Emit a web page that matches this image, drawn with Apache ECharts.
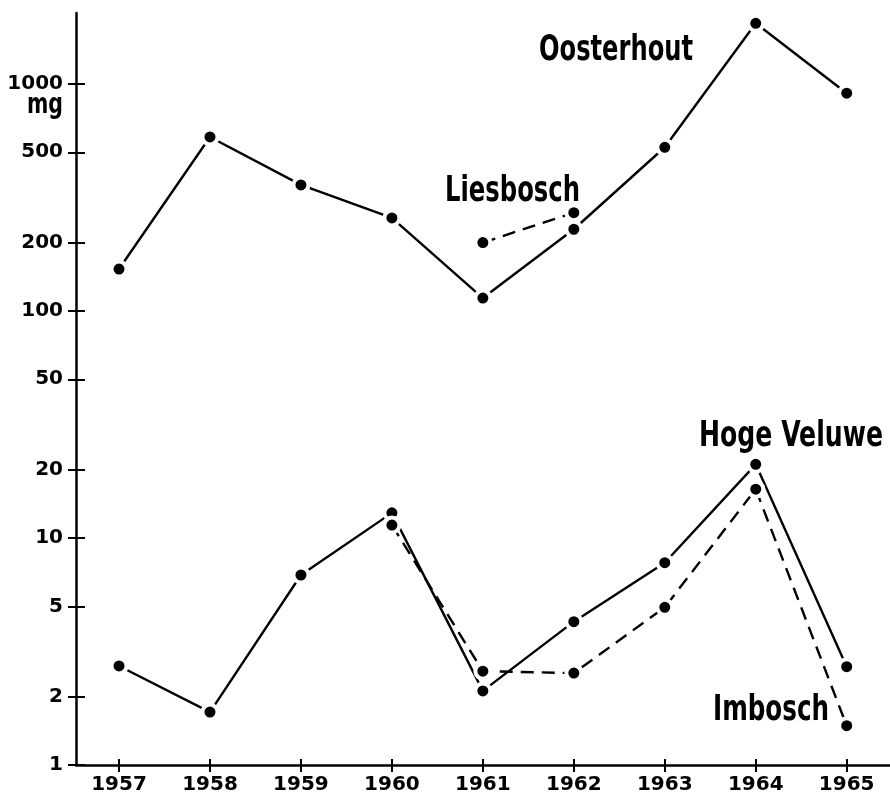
<!DOCTYPE html>
<html>
<head>
<meta charset="utf-8">
<script src="https://cdn.jsdelivr.net/npm/echarts@6/dist/echarts.min.js"></script>
<style>
html,body{margin:0;padding:0;background:#fff;}
#main{width:890px;height:799px;}
</style>
</head>
<body>
<div id="main"></div>
<script>
var years=[1957,1958,1959,1960,1961,1962,1963,1964,1965];
var oosterhout=[153,584,359,257,114,229,526,1850,910];
var liesbosch=[null,null,null,null,200,271,null,null,null];
var hogeVeluwe=[2.73,1.71,6.87,12.9,2.12,4.28,7.78,21.1,2.71];
var imbosch=[null,null,null,11.4,2.59,2.54,4.95,16.4,1.49];
var yTicks=[1,2,5,10,20,50,100,200,500,1000];

function pairs(arr){
	var out=[];
	for(var i=0;i<years.length;i++){
		out.push([years[i],arr[i]==null?'-':arr[i]]);
	}
	return out;
}

// squeeze the condensed labels to the width they have in the original
var measureCtx=document.createElement('canvas').getContext('2d');
var labelFont="bold 36px 'DejaVu Sans Condensed','Liberation Sans Narrow',sans-serif";
function label(text,x,y,w,font,align){
	font=font||labelFont;
	measureCtx.font=font;
	var sx=w/measureCtx.measureText(text).width;
	return {type:'text',x:x,y:y,scaleX:sx,z:10,
		style:{text:text,fill:'#000',font:font,align:align||'left',verticalAlign:'middle'}};
}

var myChart=echarts.init(document.getElementById('main'));

function seriesOf(name,arr,dashed){
	return {
		name:name,
		type:'line',
		data:pairs(arr),
		xAxisIndex:0,
		yAxisIndex:0,
		symbol:'circle',
		symbolSize:15,
		itemStyle:{color:'#000',borderColor:'#fff',borderWidth:4},
		lineStyle:{color:'#000',width:2.4,type:dashed?[13,8]:'solid'},
		connectNulls:false,
		animation:false,
		z:3
	};
}

var tickFont={color:'#000',fontFamily:'DejaVu Sans',fontWeight:'bold',fontSize:20};

var option={
	backgroundColor:'#fff',
	animation:false,
	grid:{left:76,right:0,top:13,bottom:34},
	xAxis:[{
		type:'value',
		min:1956.527,
		max:1965.476,
		position:'bottom',
		splitLine:{show:false},
		axisLine:{show:true,lineStyle:{color:'#000',width:2.5}},
		axisTick:{show:true,inside:false,length:7,customValues:years,lineStyle:{color:'#000',width:2}},
		axisLabel:Object.assign({
			customValues:years,margin:10,
			formatter:function(v){return String(Math.round(v));}
		},tickFont)
	},{
		type:'value',
		min:1956.527,
		max:1965.476,
		position:'bottom',
		splitLine:{show:false},
		axisLine:{show:false},
		axisLabel:{show:false},
		axisTick:{show:true,inside:true,length:6,customValues:years,lineStyle:{color:'#000',width:2}}
	}],
	yAxis:[{
		type:'log',
		logBase:10,
		min:1,
		max:2053,
		position:'left',
		splitLine:{show:false},
		axisLine:{show:true,lineStyle:{color:'#000',width:2.5}},
		axisTick:{show:true,inside:false,length:8,customValues:yTicks,lineStyle:{color:'#000',width:2}},
		axisLabel:Object.assign({
			customValues:yTicks,margin:13,
			formatter:function(v){return String(Math.round(v));}
		},tickFont)
	},{
		type:'log',
		logBase:10,
		min:1,
		max:2053,
		position:'left',
		splitLine:{show:false},
		axisLine:{show:false},
		axisLabel:{show:false},
		axisTick:{show:true,inside:true,length:9,customValues:yTicks,lineStyle:{color:'#000',width:2}}
	}],
	graphic:[
		label('mg',63,105.5,36,"bold 29px 'DejaVu Sans Condensed',sans-serif",'right'),
		label('Oosterhout',539,51,154),
		label('Liesbosch',445,191.3,135),
		label('Hoge Veluwe',699,436.3,184),
		label('Imbosch',713,710.7,116)
	],
	series:[
		seriesOf('Oosterhout',oosterhout,false),
		seriesOf('Liesbosch',liesbosch,true),
		seriesOf('Hoge Veluwe',hogeVeluwe,false),
		seriesOf('Imbosch',imbosch,true)
	]
};
myChart.setOption(option);
</script>
</body>
</html>
